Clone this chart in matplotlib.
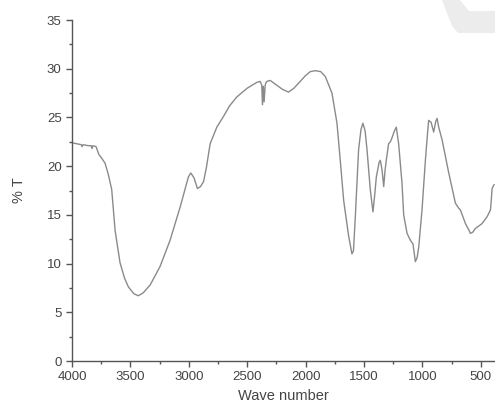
import matplotlib
matplotlib.use("Agg")
import matplotlib.pyplot as plt
import matplotlib.patches as patches
from matplotlib.ticker import MultipleLocator

# FTIR spectrum (wave number, % transmittance)
wave = [4000, 3960, 3920, 3914, 3905, 3860, 3835, 3829, 3820, 3794, 3770, 3745,
        3717, 3690, 3660, 3631, 3589, 3550, 3517, 3470, 3432, 3390, 3331, 3246,
        3160, 3074, 3003, 2983, 2955, 2926, 2900, 2874, 2850, 2817, 2760, 2703,
        2650, 2589, 2500, 2417, 2389, 2375, 2369, 2362, 2355, 2346, 2338, 2330,
        2303, 2246, 2200, 2146, 2100, 2046, 2000, 1960, 1917, 1870, 1831, 1774,
        1731, 1703, 1674, 1631, 1603, 1590, 1574, 1546, 1525, 1509, 1490, 1474,
        1446, 1423, 1410, 1394, 1370, 1360, 1345, 1331, 1320, 1309, 1289, 1274,
        1260, 1240, 1223, 1203, 1174, 1160, 1131, 1103, 1080, 1060, 1045, 1031,
        1003, 974, 955, 946, 925, 903, 885, 874, 860, 831, 774, 717, 690, 674,
        631, 600, 589, 570, 546, 489, 446, 417, 410, 403, 386]
trans = [22.4, 22.3, 22.2, 22.0, 22.2, 22.1, 22.1, 21.8, 22.1, 22.0, 21.2, 20.8,
         20.3, 19.2, 17.6, 13.4, 10.1, 8.5, 7.6, 6.9, 6.7, 7.0, 7.8, 9.7,
         12.4, 15.8, 18.9, 19.3, 18.8, 17.7, 17.9, 18.4, 19.8, 22.3, 24.0, 25.1,
         26.2, 27.1, 28.0, 28.6, 28.7, 28.3, 26.3, 28.2, 26.6, 28.3, 28.6, 28.7,
         28.8, 28.3, 27.9, 27.6, 28.0, 28.7, 29.3, 29.7, 29.8, 29.7, 29.2, 27.5,
         24.4, 20.6, 16.5, 12.8, 11.0, 11.3, 14.8, 21.7, 23.8, 24.4, 23.6, 21.7,
         17.6, 15.3, 16.8, 18.9, 20.4, 20.6, 19.6, 17.9, 19.5, 20.6, 22.3, 22.5,
         22.9, 23.6, 24.0, 22.3, 18.2, 15.0, 13.1, 12.4, 12.0, 10.2, 10.6, 11.7,
         15.5, 20.6, 23.5, 24.7, 24.5, 23.5, 24.6, 24.9, 24.0, 22.7, 19.3, 16.2,
         15.7, 15.5, 14.1, 13.4, 13.1, 13.2, 13.6, 14.1, 14.8, 15.5, 16.5, 17.7, 18.1]

X_TICKS = [4000, 3500, 3000, 2500, 2000, 1500, 1000, 500]
Y_TICKS = [0, 5, 10, 15, 20, 25, 30, 35]

plt.rcParams['font.family'] = ['Liberation Sans', 'DejaVu Sans']

fig = plt.figure(figsize=(4.95, 4.12), dpi=100)
ax = fig.add_axes([72 / 495, 51 / 412, 1 - 72 / 495, 341 / 412])

# faint watermark in the top right corner
wm = [(442, 0), (460, 0), (469, 11), (495, 11), (495, 33), (458, 33), (452, 26)]
fig.patches.append(patches.Polygon([(x / 495, 1 - y / 412) for x, y in wm],
                                   closed=True, transform=fig.transFigure,
                                   facecolor='#ececec', edgecolor='none', zorder=0))

ax.plot(wave, trans, color='#8a8a8a', linewidth=1.0)

ax.set_xlim(4000, 378)
ax.set_ylim(0, 35)
ax.set_xticks(X_TICKS)
ax.set_yticks(Y_TICKS)
ax.xaxis.set_minor_locator(MultipleLocator(250))
ax.yaxis.set_minor_locator(MultipleLocator(2.5))
ax.tick_params(which='major', direction='out', length=4, width=1, colors='#555555',
               labelsize=9.5, labelcolor='#444444')
ax.tick_params(which='minor', direction='out', length=2.5, width=1, colors='#555555')

for side in ['top', 'right']:
    ax.spines[side].set_visible(False)
for side in ['left', 'bottom']:
    ax.spines[side].set_color('#555555')
    ax.spines[side].set_linewidth(1.0)

ax.set_xlabel('Wave number', fontsize=10.5, color='#444444', labelpad=4)
ax.set_ylabel('% T', fontsize=10.5, color='#444444', labelpad=15)
ax.patch.set_alpha(0)

plt.savefig('out.png', dpi=100)
plt.close()
